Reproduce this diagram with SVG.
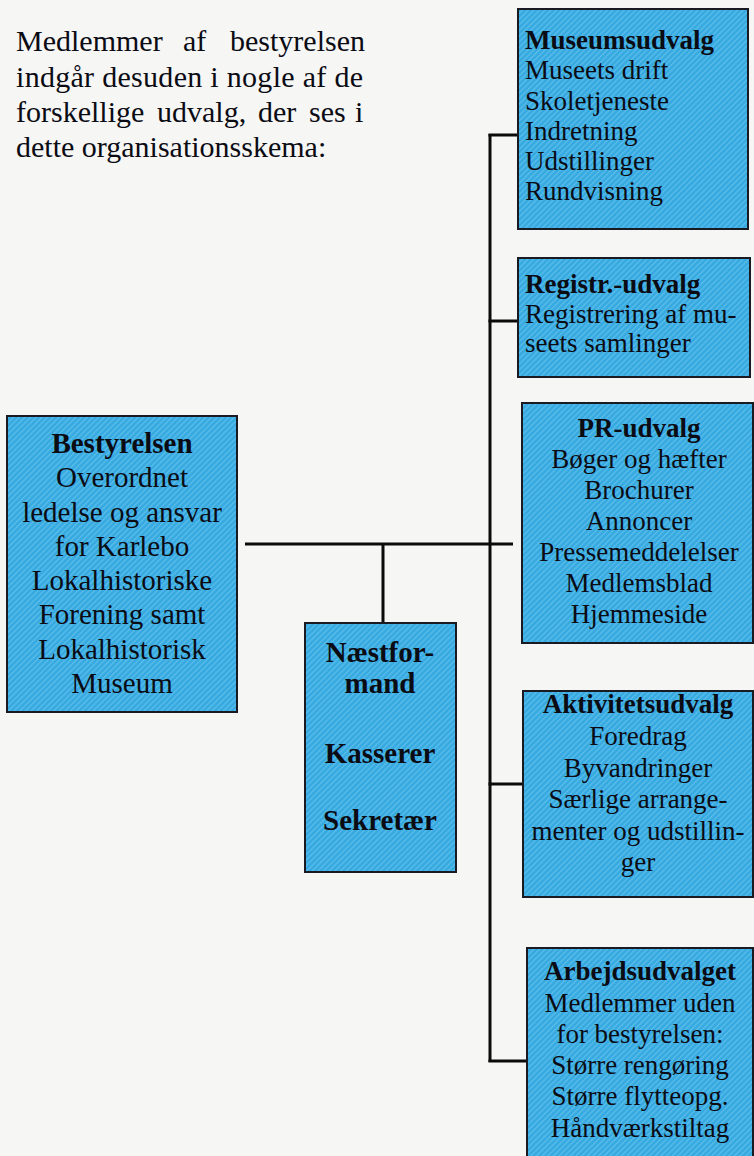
<svg xmlns="http://www.w3.org/2000/svg" width="754" height="1156" viewBox="0 0 754 1156">
<defs>
<pattern id="hatch" width="4" height="4" patternUnits="userSpaceOnUse" patternTransform="rotate(45)">
<rect width="4" height="4" fill="#35a9e0"/>
<rect width="1.3" height="4" fill="#5cbeea"/>
</pattern>
</defs>
<style>
.box{fill:url(#hatch);stroke:#1a1a22;stroke-width:2}
text{font-family:"Liberation Serif","Times New Roman",serif;fill:#0b0b14}
.t{font-size:27px}
.tb{font-size:27px;font-weight:bold}
.big{font-size:29px}
.bigb{font-size:29px;font-weight:bold}
.intro{font-size:30px}
.c{text-anchor:middle}
.ln{stroke:#0b0b0b;stroke-width:3;fill:none}
</style>
<rect width="754" height="1156" fill="#f6f6f4"/>

<g id="intro">
<text class="intro" x="16" y="51">Medlemmer</text>
<text class="intro" x="183" y="51">af</text>
<text class="intro" x="230" y="51">bestyrelsen</text>
<text class="intro" x="16" y="87" textLength="347" lengthAdjust="spacing">indgår desuden i nogle af de</text>
<text class="intro" x="16" y="122">forskellige</text>
<text class="intro" x="157" y="122">udvalg,</text>
<text class="intro" x="258" y="122">der</text>
<text class="intro" x="309" y="122">ses</text>
<text class="intro" x="355" y="122">i</text>
<text class="intro" x="16" y="157">dette organisationsskema:</text>
</g>

<g id="connectors">
<line class="ln" x1="245" y1="544" x2="513" y2="544"/>
<line class="ln" x1="490" y1="134" x2="490" y2="1062"/>
<line class="ln" x1="488.5" y1="135" x2="518" y2="135"/>
<line class="ln" x1="488.5" y1="321" x2="518" y2="321"/>
<line class="ln" x1="488.5" y1="784" x2="523" y2="784"/>
<line class="ln" x1="488.5" y1="1061" x2="527" y2="1061"/>
<line class="ln" x1="383" y1="544" x2="383" y2="623"/>
</g>

<g id="museumsudvalg">
<rect class="box" x="518" y="9" width="230" height="220"/>
<text class="tb" x="525" y="49">Museumsudvalg</text>
<text class="t" x="525" y="79">Museets drift</text>
<text class="t" x="525" y="109.5">Skoletjeneste</text>
<text class="t" x="525" y="139.5">Indretning</text>
<text class="t" x="525" y="170">Udstillinger</text>
<text class="t" x="525" y="200">Rundvisning</text>
</g>

<g id="registr-udvalg">
<rect class="box" x="518" y="258" width="232" height="119"/>
<text class="tb" x="525" y="293">Registr.-udvalg</text>
<text class="t" x="525" y="322.5">Registrering af mu-</text>
<text class="t" x="525" y="352">seets samlinger</text>
</g>

<g id="pr-udvalg">
<rect class="box" x="522" y="403" width="231" height="240"/>
<text class="tb c" x="639" y="437">PR-udvalg</text>
<text class="t c" x="639" y="467.5">Bøger og hæfter</text>
<text class="t c" x="639" y="498.5">Brochurer</text>
<text class="t c" x="639" y="530">Annoncer</text>
<text class="t c" x="639" y="561">Pressemeddelelser</text>
<text class="t c" x="639" y="592">Medlemsblad</text>
<text class="t c" x="639" y="623">Hjemmeside</text>
</g>

<g id="aktivitetsudvalg">
<rect class="box" x="523" y="691" width="230" height="206"/>
<text class="tb c" x="638" y="713">Aktivitetsudvalg</text>
<text class="t c" x="638" y="745">Foredrag</text>
<text class="t c" x="638" y="777">Byvandringer</text>
<text class="t c" x="638" y="808">Særlige arrange-</text>
<text class="t c" x="638" y="840">menter og udstillin-</text>
<text class="t c" x="638" y="871">ger</text>
</g>

<g id="arbejdsudvalget">
<rect class="box" x="527" y="948" width="226" height="212"/>
<text class="tb c" x="640" y="980">Arbejdsudvalget</text>
<text class="t c" x="640" y="1012">Medlemmer uden</text>
<text class="t c" x="640" y="1043">for bestyrelsen:</text>
<text class="t c" x="640" y="1074">Større rengøring</text>
<text class="t c" x="640" y="1105">Større flytteopg.</text>
<text class="t c" x="640" y="1137">Håndværkstiltag</text>
</g>

<g id="bestyrelsen">
<rect class="box" x="7" y="416" width="230" height="296"/>
<text class="bigb c" x="122" y="453">Bestyrelsen</text>
<text class="big c" x="122" y="487">Overordnet</text>
<text class="big c" x="122" y="521.5">ledelse og ansvar</text>
<text class="big c" x="122" y="555.5">for Karlebo</text>
<text class="big c" x="122" y="590">Lokalhistoriske</text>
<text class="big c" x="122" y="624">Forening samt</text>
<text class="big c" x="122" y="658.5">Lokalhistorisk</text>
<text class="big c" x="122" y="693">Museum</text>
</g>

<g id="naestformand">
<rect class="box" x="305" y="623" width="151" height="249"/>
<text class="bigb c" x="380" y="662">Næstfor-</text>
<text class="bigb c" x="380" y="693">mand</text>
<text class="bigb c" x="380" y="763">Kasserer</text>
<text class="bigb c" x="380" y="830">Sekretær</text>
</g>
</svg>
